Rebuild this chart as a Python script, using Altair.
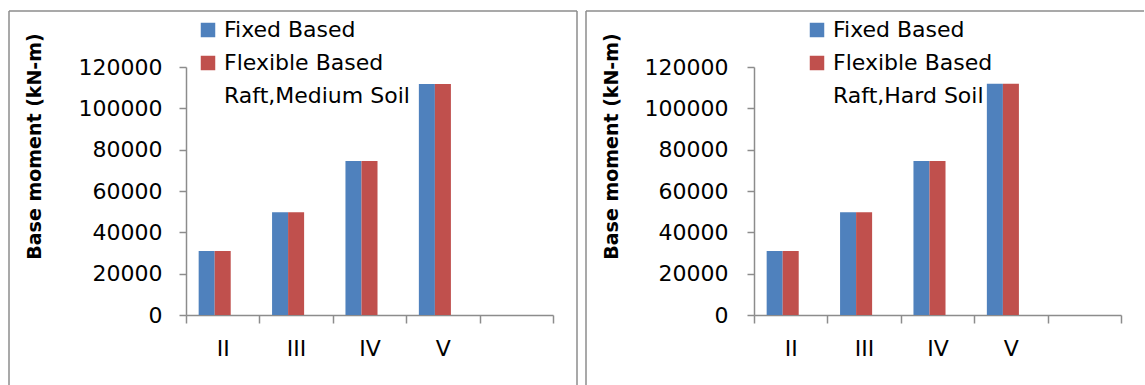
import altair as alt
import pandas as pd

categories = ["II", "III", "IV", "V", " "]
names_left = ["Fixed Based", "Flexible Based", "Raft,Medium Soil"]
names_right = ["Fixed Based", "Flexible Based", "Raft,Hard Soil"]
fixed_medium = [31000, 49700, 74500, 111800]
flexible_medium = [31000, 49700, 74500, 111800]
fixed_hard = [31000, 49700, 74500, 111900]
flexible_hard = [31000, 49700, 74500, 111900]
y_ticks = [0, 20000, 40000, 60000, 80000, 100000, 120000]
colors = ["#4F81BD", "#C0504D", "transparent"]
y_title = "Base  moment (kN-m)"

FONT = "DejaVu Sans"
AXIS_GRAY = "#8c8c8c"
W, H = 367, 248
TOP, BOTTOM = -56, 318


def frame_rules(x_left, x_right, draw_right):
    one = pd.DataFrame({"a": [0]})
    style = dict(color=AXIS_GRAY, strokeWidth=1.5)
    layers = [
        alt.Chart(one).mark_rule(**style).encode(
            x=alt.value(x_left), x2=alt.value(x_right),
            y=alt.value(TOP), y2=alt.value(TOP)),
        alt.Chart(one).mark_rule(**style).encode(
            x=alt.value(x_left), y=alt.value(TOP), y2=alt.value(BOTTOM)),
    ]
    if draw_right:
        layers.append(alt.Chart(one).mark_rule(**style).encode(
            x=alt.value(x_right), y=alt.value(TOP), y2=alt.value(BOTTOM)))
    return layers


def panel(fixed, flexible, names, legend_x, title_x, y_label_pad,
          frame_x, frame_x2, draw_right):
    rows = []
    for c, v in zip(categories, fixed):
        rows.append({"cat": c, "series": names[0], "value": v})
    for c, v in zip(categories, flexible):
        rows.append({"cat": c, "series": names[1], "value": v})
    df = pd.DataFrame(rows)

    bars = alt.Chart(df).mark_bar().encode(
        x=alt.X(
            "cat:N",
            scale=alt.Scale(domain=categories, paddingInner=0, paddingOuter=0),
            axis=alt.Axis(
                title=None, labelAngle=0, tickBand="extent", tickSize=8,
                labelPadding=15, labelFont=FONT, labelFontSize=22,
                labelColor="black", domainColor=AXIS_GRAY, tickColor=AXIS_GRAY,
                domainWidth=1.5, tickWidth=1.5,
            ),
        ),
        xOffset=alt.XOffset(
            "series:N",
            scale=alt.Scale(domain=names, paddingOuter=0.79, paddingInner=0),
        ),
        y=alt.Y(
            "value:Q",
            scale=alt.Scale(domain=[0, 120000], nice=False),
            axis=alt.Axis(
                values=y_ticks, format="d", grid=False, title=y_title,
                titleFont=FONT, titleFontSize=19, titleFontWeight="bold",
                titleColor="black", titleAngle=270, titleX=title_x, titleY=79,
                titleAlign="center", titleBaseline="middle",
                tickSize=7, labelPadding=y_label_pad, labelFont=FONT,
                labelFontSize=22, labelColor="black", domainColor=AXIS_GRAY,
                tickColor=AXIS_GRAY, domainWidth=1.5, tickWidth=1.5,
            ),
        ),
        color=alt.Color(
            "series:N",
            scale=alt.Scale(domain=names, range=colors),
            legend=alt.Legend(
                title=None, orient="none", legendX=legend_x, legendY=-48,
                symbolType="square", symbolSize=210, symbolStrokeWidth=0,
                labelFont=FONT, labelFontSize=22, labelColor="black",
                rowPadding=11, labelOffset=5, padding=0, labelLimit=400,
            ),
        ),
    )

    layers = frame_rules(frame_x, frame_x2, draw_right) + [bars]
    return alt.layer(*layers).properties(width=W, height=H)


left = panel(fixed_medium, flexible_medium, names_left, 11, -152, 17,
             -177, 391, True)
right = panel(fixed_hard, flexible_hard, names_right, 52, -143, 19,
              -168, 390, False)

chart = alt.hconcat(left, right, spacing=7).resolve_scale(
    color="independent", xOffset="independent"
).resolve_legend(color="independent").properties(
    padding={"left": 8, "top": 10, "right": 0, "bottom": 0}
).configure_view(stroke=None)

chart.save("out.html", embed_options={"renderer": "svg", "actions": False})
